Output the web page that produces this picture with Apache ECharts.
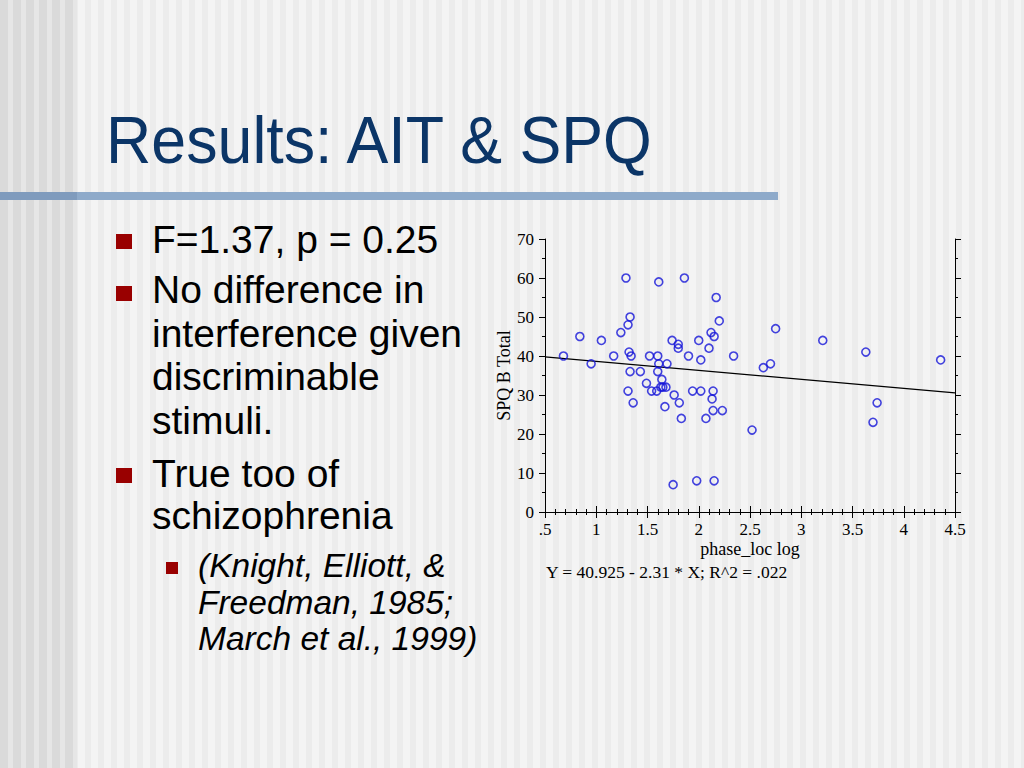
<!DOCTYPE html>
<html>
<head>
<meta charset="utf-8">
<script src="https://cdn.jsdelivr.net/npm/echarts@6/dist/echarts.min.js"></script>
<style>
  html, body { margin: 0; padding: 0; }
  body {
    width: 1024px; height: 768px; overflow: hidden; position: relative;
    background: repeating-linear-gradient(90deg, #f4f4f4 0px, #f4f4f4 7px, #ececec 7px, #ececec 13px);
  }
  #leftband {
    position: absolute; left: 0; top: 0; width: 77px; height: 768px;
    background: repeating-linear-gradient(90deg, #dadada 0px, #dadada 8px, #e6e6e6 8px, #e6e6e6 13px);
  }
  #bar { position: absolute; left: 0; top: 192px; width: 778px; height: 8px; background: #8eaaca; }
  #barl { position: absolute; left: 0; top: 192px; width: 77px; height: 8px; background: #7f9bbd; }
  #chart { position: absolute; left: 0; top: 0; width: 1024px; height: 768px; }
</style>
</head>
<body>
<div id="leftband"></div>
<div id="bar"></div>
<div id="barl"></div>
<div id="chart"></div>
<script>
// ---- data ----
const titleText = 'Results: AIT & SPQ';
const bulletLines = ['F=1.37, p = 0.25', 'No difference in', 'interference given', 'discriminable', 'stimuli.', 'True too of', 'schizophrenia'];
const subBulletLines = ['(Knight, Elliott, &', 'Freedman, 1985;', 'March et al., 1999)'];

const xTickLabels = ['.5', '1', '1.5', '2', '2.5', '3', '3.5', '4', '4.5'];
const xAxisTitle = 'phase_loc log';
const yAxisTitle = 'SPQ B Total';
const equationText = 'Y = 40.925 - 2.31 * X; R^2 = .022';
const fitIntercept = 40.925;
const fitSlope = -2.31;
const fitRange = [0.5, 4.5];

const phaseLocLog = [0.68, 0.84, 0.95, 1.05, 1.17, 1.24, 1.29, 1.31, 1.33, 1.32, 1.34, 1.33, 1.31, 1.36, 1.43, 1.49, 1.52, 1.54, 1.59, 1.61, 1.60, 1.61, 1.60, 1.64, 1.63, 1.65, 1.68, 1.69, 1.67, 1.74, 1.76, 1.75, 1.80, 1.80, 1.81, 1.83, 1.86, 1.90, 1.94, 1.98, 2.00, 2.02, 2.02, 2.07, 2.10, 2.12, 2.13, 2.14, 2.14, 2.15, 2.15, 2.17, 2.20, 2.23, 2.34, 2.52, 2.63, 2.70, 2.75, 3.21, 3.63, 3.70, 3.74, 4.36];
const spqBTotal   = [40, 45, 38, 44, 40, 46, 60, 48, 50, 41, 40, 36, 31, 28, 36, 33, 40, 31, 31, 59, 40, 38, 36, 34, 32, 32, 32, 38, 27, 44, 30, 7, 43, 42, 28, 24, 60, 40, 31, 8, 44, 39, 31, 24, 42, 46, 29, 31, 26, 45, 8, 55, 49, 26, 40, 21, 37, 38, 47, 44, 41, 23, 28, 39];

// ---- build ----
const chart = echarts.init(document.getElementById('chart'), null, { renderer: 'svg' });
const serif = '"Liberation Serif", "Times New Roman", serif';
const sans = '"Liberation Sans", Arial, sans-serif';

const points = phaseLocLog.map((x, i) => [x, spqBTotal[i]]);
const fitLine = fitRange.map(x => [x, fitIntercept + fitSlope * x]);

const graphics = [];
graphics.push({
  type: 'text', x: 101, y: 140, scaleX: 0.95, originX: 101,
  style: { text: titleText, font: '66px ' + sans, fill: '#0b3567', verticalAlign: 'middle', align: 'left' }
});
const bulletY = [239, 289, 333, 376, 420, 473, 515];
bulletLines.forEach((t, i) => {
  graphics.push({ type: 'text', x: 152, y: bulletY[i],
    style: { text: t, font: '39px ' + sans, fill: '#000', verticalAlign: 'middle', align: 'left' } });
});
[[116, 234], [116, 286], [116, 468]].forEach(p => {
  graphics.push({ type: 'rect', shape: { x: p[0], y: p[1], width: 16, height: 15 }, style: { fill: '#990000' } });
});
graphics.push({ type: 'rect', shape: { x: 166, y: 562, width: 12, height: 12 }, style: { fill: '#990000' } });
const subY = [565, 602, 638];
subBulletLines.forEach((t, i) => {
  graphics.push({ type: 'text', x: 198, y: subY[i],
    style: { text: t, font: 'italic 33.5px ' + sans, fill: '#000', verticalAlign: 'middle', align: 'left' } });
});
graphics.push({ type: 'text', x: 546, y: 572,
  style: { text: equationText, font: '17.5px ' + serif, fill: '#000', verticalAlign: 'middle', align: 'left' } });

const axisLineStyle = { show: true, lineStyle: { color: '#000', width: 1 } };
const xCommon = {
  type: 'value', min: 0.5, max: 4.5, interval: 0.5,
  axisLine: axisLineStyle,
  axisTick: { show: true, length: 6, lineStyle: { color: '#000' } },
  minorTick: { show: true, splitNumber: 5, length: 3, lineStyle: { color: '#000' } },
  splitLine: { show: false }
};
const yCommon = {
  type: 'value', min: 0, max: 70, interval: 10,
  axisLine: axisLineStyle,
  axisTick: { show: true, length: 6, lineStyle: { color: '#000' } },
  minorTick: { show: true, splitNumber: 2, length: 3, lineStyle: { color: '#000' } },
  splitLine: { show: false }
};

chart.setOption({
  animation: false,
  backgroundColor: 'transparent',
  grid: { left: 545, top: 239, width: 410, height: 273, containLabel: false },
  xAxis: [
    Object.assign({}, xCommon, {
      position: 'bottom',
      name: xAxisTitle, nameLocation: 'middle', nameGap: 28,
      nameTextStyle: { fontFamily: serif, fontSize: 18, color: '#000' },
      axisLabel: { show: true, margin: 9, fontFamily: serif, fontSize: 17, color: '#000',
        formatter: v => xTickLabels[Math.round((v - 0.5) / 0.5)] }
    }),
    Object.assign({}, xCommon, { position: 'top', axisLabel: { show: false } })
  ],
  yAxis: [
    Object.assign({}, yCommon, {
      position: 'left',
      name: yAxisTitle, nameLocation: 'middle', nameGap: 32, nameRotate: 90,
      nameTextStyle: { fontFamily: serif, fontSize: 18, color: '#000' },
      axisLabel: { show: true, margin: 11, fontFamily: serif, fontSize: 17, color: '#000' }
    }),
    Object.assign({}, yCommon, { position: 'right', axisLabel: { show: false } })
  ],
  series: [
    {
      type: 'line', data: fitLine, xAxisIndex: 0, yAxisIndex: 0,
      symbol: 'none', lineStyle: { color: '#000', width: 1.2 }, z: 2
    },
    {
      type: 'scatter', data: points, xAxisIndex: 0, yAxisIndex: 0,
      symbol: 'circle', symbolSize: 8,
      itemStyle: { color: 'rgba(0,0,0,0)', borderColor: '#1515d8', borderWidth: 1.6 }, z: 3
    }
  ],
  graphic: graphics
});
</script>
</body>
</html>
